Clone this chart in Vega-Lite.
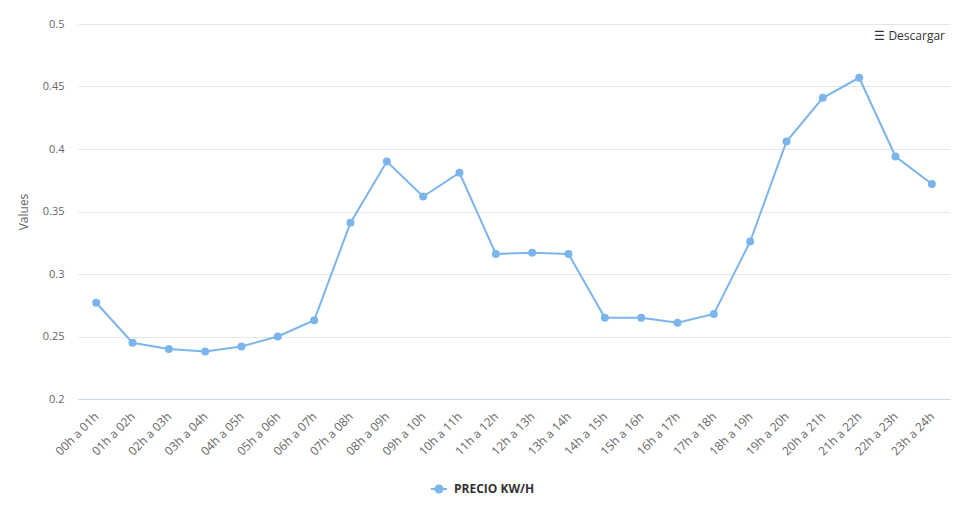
{
  "$schema": "https://vega.github.io/schema/vega-lite/v6.json",
  "width": 872,
  "height": 375,
  "autosize": "none",
  "padding": {"left": 78, "top": 24, "right": 28, "bottom": 111},
  "background": "#ffffff",
  "title": {
    "text": "☰  Descargar",
    "anchor": "end",
    "orient": "top",
    "font": "Open Sans",
    "fontSize": 12,
    "fontWeight": "normal",
    "color": "#333333",
    "dy": 29,
    "dx": -5
  },
  "data": {
    "values": [
      {"hora": "00h a 01h", "valor": 0.277, "serie": "PRECIO KW/H"},
      {"hora": "01h a 02h", "valor": 0.245, "serie": "PRECIO KW/H"},
      {"hora": "02h a 03h", "valor": 0.240, "serie": "PRECIO KW/H"},
      {"hora": "03h a 04h", "valor": 0.238, "serie": "PRECIO KW/H"},
      {"hora": "04h a 05h", "valor": 0.242, "serie": "PRECIO KW/H"},
      {"hora": "05h a 06h", "valor": 0.250, "serie": "PRECIO KW/H"},
      {"hora": "06h a 07h", "valor": 0.263, "serie": "PRECIO KW/H"},
      {"hora": "07h a 08h", "valor": 0.341, "serie": "PRECIO KW/H"},
      {"hora": "08h a 09h", "valor": 0.390, "serie": "PRECIO KW/H"},
      {"hora": "09h a 10h", "valor": 0.362, "serie": "PRECIO KW/H"},
      {"hora": "10h a 11h", "valor": 0.381, "serie": "PRECIO KW/H"},
      {"hora": "11h a 12h", "valor": 0.316, "serie": "PRECIO KW/H"},
      {"hora": "12h a 13h", "valor": 0.317, "serie": "PRECIO KW/H"},
      {"hora": "13h a 14h", "valor": 0.316, "serie": "PRECIO KW/H"},
      {"hora": "14h a 15h", "valor": 0.265, "serie": "PRECIO KW/H"},
      {"hora": "15h a 16h", "valor": 0.265, "serie": "PRECIO KW/H"},
      {"hora": "16h a 17h", "valor": 0.261, "serie": "PRECIO KW/H"},
      {"hora": "17h a 18h", "valor": 0.268, "serie": "PRECIO KW/H"},
      {"hora": "18h a 19h", "valor": 0.326, "serie": "PRECIO KW/H"},
      {"hora": "19h a 20h", "valor": 0.406, "serie": "PRECIO KW/H"},
      {"hora": "20h a 21h", "valor": 0.441, "serie": "PRECIO KW/H"},
      {"hora": "21h a 22h", "valor": 0.457, "serie": "PRECIO KW/H"},
      {"hora": "22h a 23h", "valor": 0.394, "serie": "PRECIO KW/H"},
      {"hora": "23h a 24h", "valor": 0.372, "serie": "PRECIO KW/H"}
    ]
  },
  "encoding": {
    "x": {
      "field": "hora",
      "type": "ordinal",
      "sort": null,
      "scale": {"paddingInner": 1, "paddingOuter": 0.5},
      "axis": {
        "title": null,
        "labelAngle": -45,
        "labelAlign": "right",
        "labelBaseline": "middle",
        "labelFont": "Open Sans",
        "labelFontSize": 12,
        "labelColor": "#666666",
        "labelPadding": 15,
        "ticks": false,
        "domainColor": "#ccd6eb",
        "domainWidth": 1,
        "grid": false
      }
    },
    "y": {
      "field": "valor",
      "type": "quantitative",
      "scale": {"domain": [0.2, 0.5], "nice": false, "zero": false},
      "axis": {
        "title": "Values",
        "titleFont": "Open Sans",
        "titleFontSize": 12,
        "titleFontWeight": "normal",
        "titleColor": "#666666",
        "titlePadding": 12,
        "values": [0.2, 0.25, 0.3, 0.35, 0.4, 0.45, 0.5],
        "format": "~g",
        "labelFont": "Open Sans",
        "labelFontSize": 11,
        "labelColor": "#666666",
        "labelPadding": 14,
        "ticks": false,
        "domain": false,
        "grid": true,
        "gridColor": "#e6e6e6",
        "gridWidth": 1
      }
    },
    "color": {
      "field": "serie",
      "type": "nominal",
      "scale": {"range": ["#7cb5ec"]},
      "legend": {
        "title": null,
        "orient": "none",
        "legendX": 352,
        "legendY": 456,
        "symbolType": "M-1,0L1,0M-0.45,0a0.45,0.45 0 1,0 0.9,0a0.45,0.45 0 1,0 -0.9,0",
        "symbolSize": 256,
        "symbolStrokeWidth": 2,
        "symbolFillColor": "#7cb5ec",
        "symbolStrokeColor": "#7cb5ec",
        "labelFont": "Open Sans",
        "labelFontSize": 12,
        "labelFontWeight": "bold",
        "labelColor": "#333333",
        "labelOffset": 6
      }
    }
  },
  "layer": [
    {"mark": {"type": "line", "strokeWidth": 2}},
    {"mark": {"type": "point", "filled": true, "size": 64, "opacity": 1}}
  ],
  "config": {
    "view": {"stroke": null}
  }
}
